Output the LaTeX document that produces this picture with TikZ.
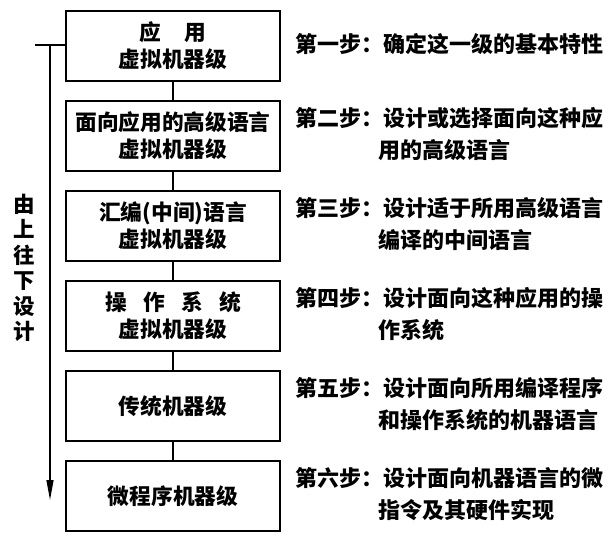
\documentclass[tikz,border=0pt]{standalone}
\usepackage{fontspec}
\setmainfont{Noto Sans CJK SC}
\usetikzlibrary{arrows.meta, positioning}

\begin{document}
\begin{tikzpicture}[
    x=1pt, y=-1pt,
    node distance=20pt,
    level/.style={rectangle, draw, line width=2.4pt, outer sep=0pt, minimum width=214pt, minimum height=70pt, inner sep=0pt, align=center, font=\fontsize{21.7}{27}\selectfont\bfseries},
    stepnote/.style={right=15pt of #1, inner sep=0pt, font=\fontsize{22}{32}\selectfont\bfseries},
    link/.style={line width=1.5pt},
    guide/.style={line width=1.3pt}
]
\useasboundingbox (0,0) rectangle (616,541);
% levels
\node [level] (l1) at (173,46) {应\hspace{1.1em}用\\虚拟机器级};
\node [level, below=of l1] (l2) {面向应用的高级语言\\虚拟机器级};
\node [level, below=of l2] (l3) {汇编(中间)语言\\虚拟机器级};
\node [level, below=of l3] (l4) {操\hspace{0.75em}作\hspace{0.75em}系\hspace{0.75em}统\\虚拟机器级};
\node [level, below=of l4] (l5) {传统机器级};
\node [level, below=of l5] (l6) {微程序机器级};
\draw[link] (l1) -- (l2);
\draw[link] (l2) -- (l3);
\draw[link] (l3) -- (l4);
\draw[link] (l4) -- (l5);
\draw[link] (l5) -- (l6);
% steps
\node [stepnote=l1] (t1) {\begin{tabular}{@{}l@{}l@{}}第一步：&确定这一级的基本特性\end{tabular}};
\node [stepnote=l2] (t2) {\begin{tabular}{@{}l@{}l@{}}第二步：&设计或选择面向这种应\\&\hspace{-5pt}用的高级语言\end{tabular}};
\node [stepnote=l3] (t3) {\begin{tabular}{@{}l@{}l@{}}第三步：&设计适于所用高级语言\\&\hspace{-5pt}编译的中间语言\end{tabular}};
\node [stepnote=l4] (t4) {\begin{tabular}{@{}l@{}l@{}}第四步：&设计面向这种应用的操\\&\hspace{-5pt}作系统\end{tabular}};
\node [stepnote=l5] (t5) {\begin{tabular}{@{}l@{}l@{}}第五步：&设计面向所用编译程序\\&\hspace{-5pt}和操作系统的机器语言\end{tabular}};
\node [stepnote=l6] (t6) {\begin{tabular}{@{}l@{}l@{}}第六步：&设计面向机器语言的微\\&\hspace{-5pt}指令及其硬件实现\end{tabular}};
% top-down arrow
\node [align=center, inner sep=0pt, font=\fontsize{21.5}{25.5}\selectfont\bfseries] (dir) at (24,268) {由\\上\\往\\下\\设\\计};
\coordinate (tick) at (35,45);
\coordinate (atop) at (50,45);
\coordinate (aend) at (50,500);
\draw[guide] (tick) -- (l1.west |- tick);
\draw[guide, -{Triangle[length=20pt, width=7pt]}] (atop) -- (aend);
\end{tikzpicture}
\end{document}
